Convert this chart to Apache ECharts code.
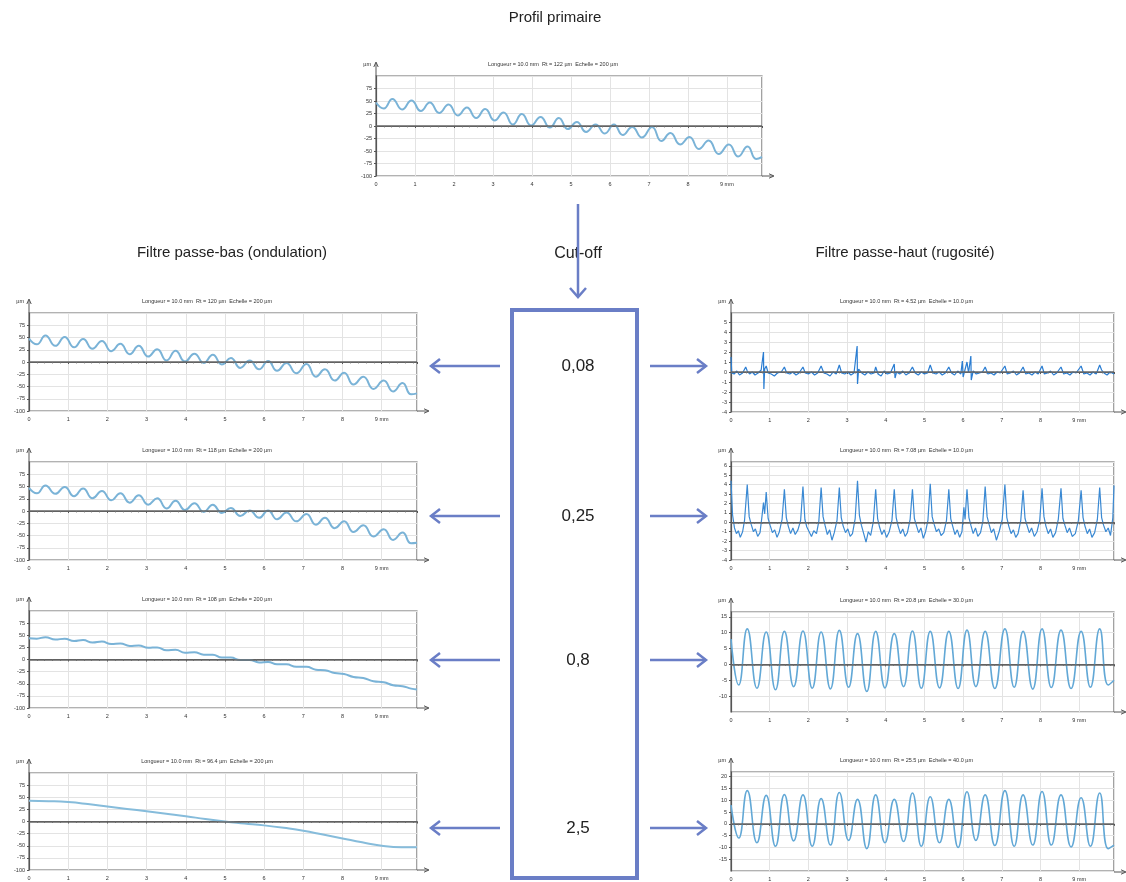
<!DOCTYPE html>
<html><head><meta charset="utf-8">
<script src="https://cdn.jsdelivr.net/npm/echarts@6/dist/echarts.min.js"></script>
<style>html,body{margin:0;padding:0;background:#fff}#c{width:1126px;height:882px}</style>
</head><body><div id="c"></div>
<script>
// ---------- DATA ----------
const xTickLabels = ['0','1','2','3','4','5','6','7','8','9 mm'];
const headerTexts = ['Profil primaire','Filtre passe-bas (ondulation)','Cut-off','Filtre passe-haut (rugosité)'];
const cutoffValues = ['0,08','0,25','0,8','2,5'];
const chartTitles = [
  'Longueur = 10.0 mm  Rt = 122 µm  Echelle = 200 µm',
  'Longueur = 10.0 mm  Rt = 120 µm  Echelle = 200 µm',
  'Longueur = 10.0 mm  Rt = 118 µm  Echelle = 200 µm',
  'Longueur = 10.0 mm  Rt = 108 µm  Echelle = 200 µm',
  'Longueur = 10.0 mm  Rt = 96.4 µm  Echelle = 200 µm',
  'Longueur = 10.0 mm  Rt = 4.52 µm  Echelle = 10.0 µm',
  'Longueur = 10.0 mm  Rt = 7.08 µm  Echelle = 10.0 µm',
  'Longueur = 10.0 mm  Rt = 20.8 µm  Echelle = 30.0 µm',
  'Longueur = 10.0 mm  Rt = 25.5 µm  Echelle = 40.0 µm'
];
// peak / trough positions along the profile (mm)
const waveX = [0,0.2,0.42,0.67,0.91,1.15,1.38,1.62,1.86,2.1,2.33,2.57,2.8,3.04,3.27,3.51,3.74,3.98,4.22,4.46,4.69,4.92,5.15,5.39,5.63,5.87,6.1,6.33,6.57,6.82,7.08,7.32,7.55,7.8,8.04,8.28,8.53,8.79,9.05,9.29,9.53,9.75,9.9];
const primaryY = [47,35,54,33,51,30,47,26,43,21,37,16,34,11,27,3,24,1,18,-3,16,-6,8,-12,3,-15,3,-18,-2,-23,-2,-30,-14,-37,-22,-46,-29,-56,-37,-61,-41,-66,-62];
const low008Y = [48,36,54,33,51,30,47,27,43,22,37,16,33,11,26,3,23,1,17,-2,15,-5,8,-12,3,-15,2,-18,-2,-23,-4,-30,-15,-38,-22,-46,-30,-55,-38,-60,-43,-66,-64];
const low025Y = [47,36,52,35,49,30,46,26,41,22,36,17,32,13,26,5,21,2,16,-2,13,-4,6,-10,1,-14,1,-17,-3,-21,-6,-28,-14,-35,-21,-43,-29,-52,-37,-59,-44,-66,-65];
const low08Y = [44,43,46,41,43,38,40,35,37,32,33,28,29,24,25,19,20,14,15,10,10,4,4,-1,-1,-6,-5,-10,-10,-15,-15,-21,-22,-28,-30,-36,-38,-45,-47,-53,-55,-60,-62];
const low25X = [0,0.5,1,1.5,2,2.5,3,3.5,4,4.5,5,5.5,6,6.5,7,7.5,8,8.5,9,9.5,9.9];
const low25Y = [43,42,40,36,31,26,21,16,11,5,0,-4,-8,-13,-19,-27,-35,-43,-50,-53,-53];
const high08Y = [8,-6.5,11.2,-7.5,10.2,-8,10.4,-7,10.5,-7.5,10.2,-7.7,10.7,-7.2,9.7,-8.5,10.4,-7.4,9.7,-7,10.5,-7.5,10.4,-7.4,10.4,-7.6,10.8,-7,10.4,-7.6,11.2,-7.2,10.4,-7.8,11.2,-7.3,10.8,-7.6,10.4,-7.2,11.2,-6.5,-5];
const high25Y = [8,-6,14.1,-8,12.1,-9.5,12.4,-7.2,12.3,-9.5,10.7,-9,13.3,-7,10.4,-10.5,12.3,-8,10.4,-7.5,13.1,-9.5,11.5,-8,10.4,-10,13.6,-7,12.3,-9.2,14.1,-9.5,12.3,-9,13.7,-9,12.3,-9.8,11.1,-9.5,13.1,-10.5,-9];
const high008X = [0,0.02,0.08,0.15,0.22,0.3,0.38,0.42,0.48,0.55,0.62,0.7,0.78,0.84,0.85,0.87,0.91,0.96,1.04,1.12,1.2,1.3,1.38,1.44,1.52,1.6,1.68,1.76,1.86,1.92,2,2.08,2.16,2.24,2.33,2.4,2.48,2.56,2.64,2.72,2.8,2.86,2.94,3.02,3.1,3.18,3.26,3.27,3.3,3.38,3.46,3.54,3.62,3.7,3.74,3.8,3.88,3.96,4.04,4.12,4.22,4.24,4.28,4.36,4.44,4.52,4.6,4.69,4.76,4.84,4.92,5,5.08,5.15,5.22,5.3,5.38,5.46,5.54,5.63,5.7,5.78,5.86,5.94,5.98,6,6.06,6.1,6.14,6.2,6.21,6.26,6.34,6.42,6.5,6.57,6.64,6.72,6.8,6.88,6.96,7.08,7.14,7.22,7.3,7.38,7.46,7.55,7.62,7.7,7.78,7.86,7.94,8.04,8.1,8.18,8.26,8.34,8.42,8.53,8.6,8.68,8.76,8.84,8.92,9.05,9.12,9.2,9.28,9.36,9.44,9.53,9.58,9.64,9.72,9.8,9.9];
const high008Y = [1.5,-0.1,-0.2,0.1,-0.3,-0.1,0.5,0.1,-0.2,0,-0.3,-0.1,0.2,2,-1.7,0.3,0.6,-0.1,-0.2,-0.4,-0.1,0,0.5,-0.1,-0.2,0,-0.3,-0.1,0.5,-0.1,-0.2,0,-0.3,-0.1,0.6,-0.1,-0.2,-0.4,0,-0.2,0.7,-0.1,-0.2,0,-0.3,-0.1,2.6,-1.2,0.3,-0.1,-0.3,0,-0.2,-0.1,0.5,-0.2,-0.4,0.1,-0.2,-0.1,0.8,-0.6,0,-0.2,0.1,-0.3,-0.1,0.5,-0.1,-0.3,0,-0.2,-0.1,0.7,-0.1,-0.2,0,-0.3,-0.1,0.5,-0.1,-0.3,0.1,-0.2,1.1,-0.5,0.4,1,-0.1,1.6,-0.8,0.1,-0.2,-0.1,0,0.5,-0.2,-0.1,-0.3,0,-0.1,0.6,-0.2,-0.1,0.1,-0.3,-0.1,0.5,-0.2,-0.1,-0.3,0,-0.2,0.6,-0.2,-0.1,0.1,-0.3,-0.1,0.5,-0.2,-0.1,-0.3,0,-0.1,0.6,-0.2,-0.1,-0.3,0,-0.2,0.7,0.2,-0.1,-0.3,0,-0.2];
const high025X = [0,0.04,0.09,0.14,0.19,0.24,0.3,0.35,0.42,0.47,0.52,0.58,0.63,0.69,0.75,0.8,0.84,0.87,0.91,0.96,1.01,1.07,1.13,1.19,1.25,1.32,1.38,1.43,1.48,1.54,1.6,1.66,1.73,1.8,1.86,1.91,1.96,2.02,2.08,2.14,2.21,2.27,2.33,2.38,2.43,2.49,2.55,2.61,2.67,2.74,2.8,2.85,2.9,2.96,3.02,3.08,3.14,3.21,3.27,3.32,3.37,3.43,3.49,3.55,3.61,3.68,3.74,3.79,3.84,3.9,3.96,4.02,4.09,4.16,4.22,4.27,4.32,4.38,4.44,4.5,4.56,4.63,4.69,4.74,4.79,4.85,4.91,4.97,5.03,5.09,5.15,5.2,5.25,5.31,5.37,5.43,5.5,5.57,5.63,5.68,5.73,5.79,5.85,5.91,5.97,6.02,6.05,6.1,6.15,6.2,6.26,6.32,6.38,6.45,6.51,6.57,6.62,6.67,6.73,6.79,6.86,6.93,7.01,7.08,7.13,7.18,7.24,7.3,7.36,7.42,7.49,7.55,7.6,7.65,7.71,7.77,7.84,7.91,7.98,8.04,8.09,8.14,8.2,8.26,8.32,8.39,8.46,8.53,8.58,8.63,8.69,8.75,8.82,8.9,8.98,9.05,9.1,9.15,9.21,9.27,9.33,9.4,9.47,9.53,9.58,9.63,9.69,9.75,9.81,9.87,9.9];
const high025Y = [4.4,0.8,-0.6,-1.2,-0.9,-1.6,-1,0.2,4,0.6,-0.2,-1,-0.7,-1.5,-1.1,0.6,2.1,0.9,3.2,0.4,-0.3,-1.1,-0.8,-1.6,-1,0.3,3.5,0.5,-0.4,-1.2,-0.6,-1.3,-0.8,0.2,3.8,0.3,-0.5,-1,-1.5,-0.9,-1.2,0.1,3.7,0.6,-0.3,-1.3,-0.8,-1.9,-1.1,0.2,3.7,0.5,-0.4,-1.1,-0.7,-1.5,-1.2,0.4,4.4,0.7,-0.3,-1.2,-2.1,-1,-1.4,0.1,3.5,0.4,-0.5,-1.3,-0.8,-1.6,-1,0.2,3.5,0.5,-0.4,-1.2,-0.7,-1.5,-1.1,0.3,3.5,0.4,-0.3,-1.1,-0.6,-1.7,-1,0.2,4.1,0.6,-0.2,-1,-0.7,-1.4,-1.1,0.2,3.5,0.4,-0.4,-1.3,-0.8,-1.6,-1,1.6,0.3,3.5,0.5,-0.3,-1.2,-0.6,-1.5,-1.1,0.1,3.8,0.6,-0.2,-1.1,-0.7,-1.9,-1,0.3,4,0.5,-0.4,-1.2,-0.8,-1.6,-1.2,0.2,3.4,0.4,-0.3,-1.1,-0.6,-1.5,-1,0.2,3.6,0.6,-0.4,-1.2,-0.7,-1.6,-1.1,0.3,3.6,0.4,-0.3,-1.1,-0.6,-1.5,-1.2,0.2,3.4,0.5,-0.4,-1.2,-0.7,-1.6,-1.1,0.3,3.7,0.5,-0.3,-1,-0.6,-1.4,0.5,3.9];

// y-axis settings per chart: [min, max, interval, show min label]
const yMin = [-100,-100,-100,-100,-100,-4,-4,-15,-20];
const yMax = [100,100,100,100,100,5.9,6.4,16.5,22];
const yStep = [25,25,25,25,25,1,1,5,5];
const yShowMin = [true,true,true,true,true,true,true,false,false];

// ---------- LAYOUT ----------
const panels = [
  {left:376, top:76, width:386, height:100},
  {left:29, top:313, width:388, height:98},
  {left:29, top:462, width:388, height:98},
  {left:29, top:611, width:388, height:97},
  {left:29, top:773, width:388, height:97},
  {left:731, top:313, width:383, height:99},
  {left:731, top:462, width:383, height:98},
  {left:731, top:612, width:383, height:100},
  {left:731, top:772, width:383, height:100}
];
const zip = (xs, ys) => xs.map((x, i) => [x, ys[i]]);
const seriesData = [
  zip(waveX, primaryY), zip(waveX, low008Y), zip(waveX, low025Y), zip(waveX, low08Y), zip(low25X, low25Y),
  zip(high008X, high008Y), zip(high025X, high025Y), zip(waveX, high08Y), zip(waveX, high25Y)
];
const lineColors = ['#7ab3d7','#7ab3d7','#7ab3d7','#7ab3d7','#86bcdb','#2a7dd2','#3a89d3','#62a8d6','#62a8d6'];
const lineWidths = [2,2,2,2,2,1.2,1.2,1.6,1.6];
const smoothing = [0.5,0.5,0.5,0.5,0.5,false,false,0.5,0.5];

const FONT = '"Liberation Sans", Arial, sans-serif';
const ARROW = '#6a7ec6';
const AX = '#555';

const grids = panels.map(p => ({left:p.left, top:p.top, width:p.width, height:p.height, show:true, borderColor:'#666', borderWidth:1.2, containLabel:false}));
const xAxes = panels.map((p, i) => ({
  type:'value', gridIndex:i, min:0, max:9.9, interval:1,
  axisLine:{lineStyle:{color:AX, width:1.2}},
  axisTick:{show:true, length:2, lineStyle:{color:AX}},
  minorTick:{show:true, splitNumber:5, length:1.5, lineStyle:{color:'#888'}},
  axisLabel:{fontSize:5.5, color:'#333', margin:5, fontFamily:FONT, showMaxLabel:false,
    formatter: v => (Math.abs(v - Math.round(v)) < 1e-6 && v <= 9) ? xTickLabels[Math.round(v)] : ''},
  splitLine:{show:true, lineStyle:{color:'#e3e3e3', width:1}}
}));
const yAxes = panels.map((p, i) => ({
  type:'value', gridIndex:i, min:yMin[i], max:yMax[i], interval:yStep[i],
  axisLine:{show:true, lineStyle:{color:AX, width:1.2}},
  axisTick:{show:true, length:2, lineStyle:{color:AX}},
  axisLabel:{fontSize:5.5, color:'#333', margin:4, fontFamily:FONT, showMaxLabel:false, showMinLabel:yShowMin[i]},
  splitLine:{show:true, lineStyle:{color:'#e3e3e3', width:1}}
}));
const series = seriesData.map((d, i) => ({
  type:'line', xAxisIndex:i, yAxisIndex:i, data:d, showSymbol:false, smooth:smoothing[i],
  lineStyle:{color:lineColors[i], width:lineWidths[i]}, animation:false, silent:true,
  markLine:{silent:true, symbol:'none', label:{show:false}, animation:false,
    lineStyle:{color:'#666', width:1.5, type:'solid'}, data:[{yAxis:0}]}
}));

// ---------- GRAPHIC ----------
const g = [];
function txt(t, x, y, size, color, align, z) {
  g.push({type:'text', z:z||10, style:{text:t, x:x, y:y, fill:color||'#222', font:size+'px '+FONT,
    textAlign:align||'center', textVerticalAlign:'middle', align:align||'center', verticalAlign:'middle'}});
}
function line(x1, y1, x2, y2, color, w, z) {
  g.push({type:'line', z:z||20, shape:{x1:x1, y1:y1, x2:x2, y2:y2}, style:{stroke:color, lineWidth:w}});
}
function head(points, color, w, z) {
  g.push({type:'polyline', z:z||20, shape:{points:points}, style:{stroke:color, lineWidth:w, fill:null}});
}
txt(headerTexts[0], 555, 18, 15, '#222');
txt(headerTexts[1], 232, 253, 15, '#222');
txt(headerTexts[2], 578, 254, 16, '#222', 'center', 5);
txt(headerTexts[3], 905, 253, 15, '#222');
// arrow into cut-off box
line(578, 204, 578, 297, ARROW, 2.5);
head([[570,288],[578,297],[586,288]], ARROW, 2.5);
g.push({type:'rect', z:15, shape:{x:512, y:310, width:125, height:568}, style:{stroke:ARROW, lineWidth:4, fill:'rgba(0,0,0,0)'}});
const rowY = [366, 516, 660, 828];
rowY.forEach((y, k) => {
  txt(cutoffValues[k], 578, y, 17, '#222');
  line(500, y, 431, y, ARROW, 2.5);
  head([[440,y-7],[431,y],[440,y+7]], ARROW, 2.5);
  line(650, y, 706, y, ARROW, 2.5);
  head([[697,y-7],[706,y],[697,y+7]], ARROW, 2.5);
});
panels.forEach((p, i) => {
  txt(chartTitles[i], p.left + p.width/2 - 16, p.top - 12, 5.5, '#333');
  txt('µm', p.left - 5, p.top - 12, 5.5, '#333', 'right');
  line(p.left, p.top, p.left, p.top - 13, AX, 1);
  head([[p.left-2.2,p.top-9],[p.left,p.top-14],[p.left+2.2,p.top-9]], AX, 1);
  const r = p.left + p.width, b = p.top + p.height;
  line(r, b, r + 11, b, AX, 1);
  head([[r+7,b-2.2],[r+12,b],[r+7,b+2.2]], AX, 1);
});

const chart = echarts.init(document.getElementById('c'), null, {renderer:'canvas'});
chart.setOption({
  backgroundColor:'#fff', animation:false,
  grid:grids, xAxis:xAxes, yAxis:yAxes, series:series, graphic:{elements:g}
});
</script></body></html>
